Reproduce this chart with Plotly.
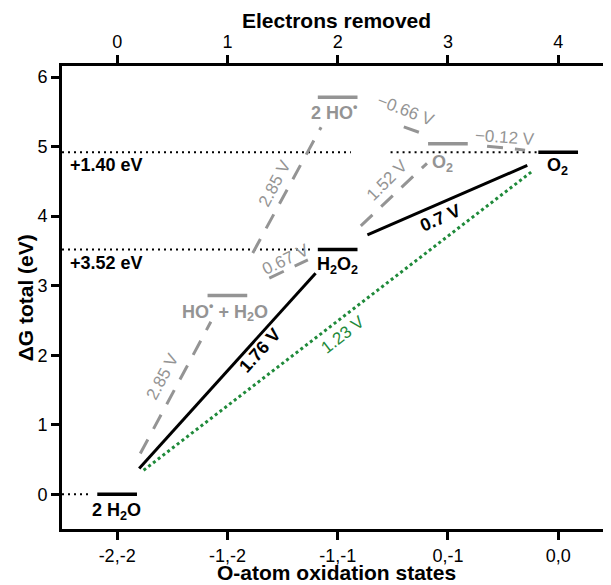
import plotly.graph_objects as go

# ---------------- data ----------------
electrons = [0, 1, 2, 3, 4]
oxidation_states = ["-2,-2", "-1,-2", "-1,-1", "0,-1", "0,0"]
y_ticks = [0, 1, 2, 3, 4, 5, 6]

# energy levels (electrons removed, ΔG)
level_names = ["2 H<sub>2</sub>O", "HO<sup>•</sup> + H<sub>2</sub>O", "H<sub>2</sub>O<sub>2</sub>",
               "2 HO<sup>•</sup>", "O<sub>2</sub>", "O<sub>2</sub>"]
level_e = [0, 1, 2, 2, 3, 4]
level_g = [0.0, 2.86, 3.52, 5.71, 5.04, 4.92]
level_kind = ["main", "radical", "main", "radical", "radical", "main"]
level_label_e = [-0.01, 0.98, 2.0, 1.97, 2.95, 3.99]
level_label_g = [-0.245, 2.63, 3.29, 5.51, 4.76, 4.71]

# step lines (start e, start ΔG, end e, end ΔG)
step_names = ["1.76 V", "0.7 V", "1.23 V", "2.85 V", "2.85 V", "0.67 V", "1.52 V", "\u22120.66 V", "\u22120.12 V"]
step_kind = ["main", "main", "ideal", "radical", "radical", "radical", "radical", "radical", "radical"]
step_e0 = [0.20, 2.27, 0.24, 0.21, 1.23, 1.38, 2.21, 2.60, 3.355]
step_g0 = [0.37, 3.73, 0.345, 0.585, 3.47, 3.11, 3.86, 5.285, 5.007]
step_e1 = [1.80, 3.72, 3.76, 0.85, 1.85, 1.73, 2.81, 2.74, 3.70]
step_g1 = [3.18, 4.73, 4.64, 2.48, 5.28, 3.37, 4.76, 5.205, 4.95]
step_label_e = [1.30, 2.93, 2.05, 0.414, 1.43, 1.53, 2.445, 2.62, 3.52]
step_label_g = [2.07, 3.98, 2.30, 1.69, 4.47, 3.37, 4.52, 5.52, 5.13]
step_label_angle = [-48, -24, -38, -62, -62, -26, -45, 21, 4]

# reference (dotted) lines
ref_g = [0.0, 3.52, 4.92, 4.92]
ref_e0 = [-0.5, -0.5, -0.5, 2.48]
ref_e1 = [-0.25, 1.78, 2.12, 3.81]
ref_labels = ["+1.40 eV", "+3.52 eV"]
ref_label_g = [4.73, 3.33]

# ---------------- styling ----------------
FONT = "Liberation Sans, Arial, sans-serif"
GRAY = "#949494"
GREEN = "#1f8a3a"
colors = {"main": "black", "radical": GRAY, "ideal": GREEN}

fig = go.Figure()

for g, e0, e1 in zip(ref_g, ref_e0, ref_e1):
    fig.add_trace(go.Scatter(x=[e0, e1], y=[g, g], mode="lines",
                             line=dict(color="black", width=2, dash="2px,4px"),
                             hoverinfo="skip", showlegend=False))

for e, g, k in zip(level_e, level_g, level_kind):
    fig.add_trace(go.Scatter(x=[e - 0.18, e + 0.18], y=[g, g], mode="lines",
                             line=dict(color=colors[k], width=3.5),
                             hoverinfo="skip", showlegend=False))

for k, e0, g0, e1, g1 in zip(step_kind, step_e0, step_g0, step_e1, step_g1):
    if k == "main":
        ln = dict(color="black", width=3)
    elif k == "ideal":
        ln = dict(color=GREEN, width=3, dash="3px,3px")
    else:
        ln = dict(color=GRAY, width=3, dash="16px,12px")
    fig.add_trace(go.Scatter(x=[e0, e1], y=[g0, g1], mode="lines", line=ln,
                             hoverinfo="skip", showlegend=False))

# dummy trace for top axis
fig.add_trace(go.Scatter(x=electrons, y=[None] * len(electrons), xaxis="x2",
                         mode="markers", showlegend=False, hoverinfo="skip"))

for name, k, e, g in zip(level_names, level_kind, level_label_e, level_label_g):
    fig.add_annotation(x=e, y=g, text="<b>" + name + "</b>", showarrow=False,
                       font=dict(family=FONT, size=18, color=colors[k]))

for name, k, e, g, a in zip(step_names, step_kind, step_label_e, step_label_g, step_label_angle):
    txt = "<b>" + name + "</b>" if k == "main" else name
    size = 18 if k == "main" else 17
    fig.add_annotation(x=e, y=g, text=txt, showarrow=False, textangle=a,
                       font=dict(family=FONT, size=size, color=colors[k]))

for name, g in zip(ref_labels, ref_label_g):
    fig.add_annotation(x=-0.445, y=g, text="<b>" + name + "</b>", showarrow=False,
                       xanchor="left", font=dict(family=FONT, size=18, color="black"))

# axis titles
TFONT = dict(family=FONT, size=21, color="black")
fig.add_annotation(xref="paper", yref="paper", x=0.5, y=-0.095, text="<b>O-atom oxidation states</b>",
                   showarrow=False, font=TFONT, yanchor="middle")
fig.add_annotation(xref="paper", yref="paper", x=0.5, y=1.099, text="<b>Electrons removed</b>",
                   showarrow=False, font=TFONT, yanchor="middle")
fig.add_annotation(xref="paper", yref="paper", x=-0.066, y=0.5, text="<b>\u0394G total (eV)</b>",
                   showarrow=False, font=TFONT, textangle=-90, xanchor="center")

# thin right frame
fig.add_shape(type="line", xref="paper", yref="paper", x0=1, x1=1, y0=0, y1=1,
              line=dict(color="#bbbbbb", width=1))

axis_common = dict(showgrid=False, zeroline=False, showline=True, linecolor="black",
                   linewidth=3, ticks="outside", ticklen=8, tickwidth=3, tickcolor="black",
                   automargin=False,
                   tickfont=dict(family=FONT, size=18, color="black"))

# page body has an 8px default margin, so the figure is shrunk and shifted by 8px
fig.update_layout(
    width=603, height=577,
    margin=dict(l=54, r=1, t=58, b=56),
    plot_bgcolor="white", paper_bgcolor="white",
    xaxis=dict(range=[-0.5, 4.47], tickvals=electrons, ticktext=oxidation_states, **axis_common),
    xaxis2=dict(range=[-0.5, 4.47], tickvals=electrons, ticktext=[str(v) for v in electrons],
                overlaying="x", side="top", anchor="y", **axis_common),
    yaxis=dict(range=[-0.5, 6.16], tickvals=y_ticks, **axis_common),
)

fig.write_html("out.html")
